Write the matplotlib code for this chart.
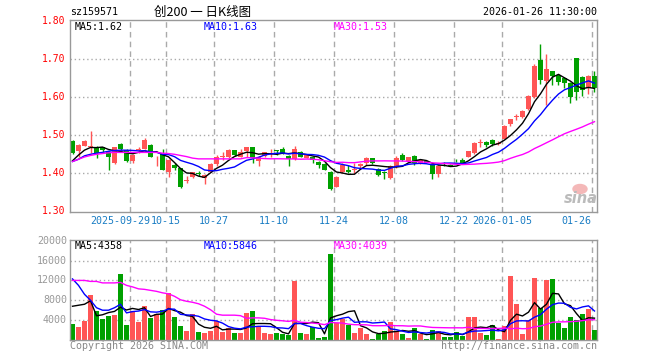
import matplotlib
matplotlib.use('Agg')
import matplotlib.pyplot as plt
import numpy as np

# daily K data, sz159571, 2025-09-15 .. 2026-01-26
opens = [1.485, 1.459, 1.473, 1.468, 1.468, 1.468, 1.455, 1.426, 1.477, 1.461,
         1.433, 1.462, 1.464, 1.475, 1.439, 1.451, 1.404, 1.422, 1.413, 1.381,
         1.391, 1.401, 1.387, 1.404, 1.425, 1.442, 1.444, 1.461, 1.444, 1.460,
         1.468, 1.433, 1.446, 1.451, 1.461, 1.464, 1.446, 1.437, 1.456, 1.441,
         1.444, 1.431, 1.425, 1.404, 1.365, 1.404, 1.409, 1.409, 1.418, 1.426,
         1.439, 1.411, 1.403, 1.387, 1.416, 1.448, 1.433, 1.446, 1.426, 1.432,
         1.425, 1.398, 1.425, 1.423, 1.435, 1.435, 1.444, 1.454, 1.480, 1.483,
         1.488, 1.478, 1.490, 1.529, 1.548, 1.549, 1.569, 1.600, 1.697, 1.643,
         1.669, 1.659, 1.652, 1.638, 1.703, 1.654, 1.624, 1.657]
highs = [1.487, 1.476, 1.488, 1.511, 1.472, 1.470, 1.458, 1.470, 1.479, 1.463,
         1.450, 1.470, 1.494, 1.476, 1.446, 1.464, 1.437, 1.426, 1.415, 1.392,
         1.404, 1.406, 1.397, 1.426, 1.448, 1.457, 1.464, 1.462, 1.464, 1.469,
         1.469, 1.446, 1.457, 1.465, 1.462, 1.470, 1.449, 1.472, 1.458, 1.451,
         1.446, 1.432, 1.426, 1.406, 1.393, 1.428, 1.422, 1.428, 1.428, 1.444,
         1.441, 1.414, 1.407, 1.422, 1.446, 1.453, 1.444, 1.447, 1.438, 1.434,
         1.427, 1.421, 1.431, 1.425, 1.437, 1.440, 1.460, 1.482, 1.490, 1.484,
         1.489, 1.486, 1.527, 1.543, 1.555, 1.567, 1.605, 1.687, 1.740, 1.714,
         1.670, 1.662, 1.654, 1.641, 1.703, 1.656, 1.659, 1.669]
lows = [1.452, 1.444, 1.472, 1.453, 1.441, 1.457, 1.409, 1.424, 1.462, 1.431,
        1.428, 1.453, 1.463, 1.442, 1.418, 1.408, 1.389, 1.409, 1.362, 1.374,
        1.387, 1.393, 1.371, 1.403, 1.418, 1.436, 1.439, 1.446, 1.442, 1.442,
        1.428, 1.418, 1.444, 1.444, 1.448, 1.451, 1.420, 1.435, 1.442, 1.439,
        1.426, 1.415, 1.408, 1.357, 1.363, 1.402, 1.400, 1.402, 1.415, 1.422,
        1.424, 1.393, 1.385, 1.385, 1.414, 1.432, 1.431, 1.422, 1.424, 1.426,
        1.385, 1.389, 1.418, 1.419, 1.431, 1.426, 1.442, 1.452, 1.469, 1.469,
        1.473, 1.475, 1.489, 1.525, 1.540, 1.545, 1.567, 1.597, 1.634, 1.580,
        1.632, 1.632, 1.624, 1.584, 1.593, 1.604, 1.610, 1.613]
closes = [1.454, 1.475, 1.485, 1.471, 1.453, 1.461, 1.444, 1.468, 1.463, 1.433,
          1.449, 1.463, 1.488, 1.444, 1.441, 1.409, 1.435, 1.413, 1.365, 1.383,
          1.403, 1.399, 1.396, 1.425, 1.442, 1.445, 1.461, 1.448, 1.455, 1.468,
          1.439, 1.442, 1.455, 1.454, 1.460, 1.453, 1.437, 1.464, 1.444, 1.449,
          1.435, 1.422, 1.409, 1.360, 1.391, 1.422, 1.404, 1.411, 1.425, 1.440,
          1.426, 1.396, 1.402, 1.418, 1.441, 1.435, 1.442, 1.428, 1.435, 1.428,
          1.398, 1.419, 1.424, 1.420, 1.434, 1.428, 1.459, 1.479, 1.481, 1.475,
          1.477, 1.479, 1.525, 1.542, 1.549, 1.564, 1.604, 1.683, 1.646, 1.675,
          1.657, 1.641, 1.637, 1.602, 1.615, 1.619, 1.657, 1.624]
vols = [3200, 2600, 3800, 9000, 5800, 4200, 4800, 5000, 13200, 3000,
        5800, 3700, 6800, 4400, 5200, 6000, 9400, 4600, 2800, 1800,
        5200, 1600, 1400, 1800, 3800, 1600, 2400, 1400, 1400, 5400,
        5800, 2600, 1400, 1200, 1400, 1200, 1000, 11800, 1400, 1200,
        2600, 400, 600, 17400, 3400, 4200, 3000, 1400, 2400, 1200,
        200, 1200, 1800, 3600, 1800, 1200, 400, 2400, 1200, 200,
        2000, 1800, 600, 600, 1600, 800, 4600, 4600, 1400, 1000,
        3000, 200, 2800, 12800, 7200, 1200, 4000, 12400, 6400, 12000,
        12200, 3400, 2400, 4600, 4000, 5200, 6200, 2000]

# moving averages at the left edge depend on days before the window
ma5_head = [1.433, 1.448, 1.461, 1.468]
ma10_head = [1.431, 1.437, 1.446, 1.450, 1.453, 1.455, 1.458, 1.460, 1.461]
ma30_head = [1.431, 1.437, 1.443, 1.447, 1.450, 1.452, 1.454, 1.455, 1.455, 1.455,
             1.455, 1.455, 1.455, 1.455, 1.455, 1.453, 1.452, 1.450, 1.447, 1.444,
             1.440, 1.438, 1.438, 1.438, 1.438, 1.438, 1.438, 1.438, 1.438]
vma5_head = [6800, 7000, 7200, 7900]
vma10_head = [12300, 11000, 9200, 8000, 6500, 6000, 6000, 6500, 7200]
vma30_head = [12000, 12000, 12000, 11800, 11800, 11500, 11500, 11500, 11600, 11000,
              10700, 10300, 10200, 10000, 9800, 9500, 9300, 8800, 8100, 7800,
              7600, 7300, 6800, 6100, 5200, 5000, 5000, 5000, 4900]

date_pos = [10, 16, 24, 34, 44, 54, 64, 72, 87]
date_labels = ['2025-09-29', '10-15', '10-27', '11-10', '11-24', '12-08',
               '12-22', '2026-01-05', '01-26']
price_ticks = [1.30, 1.40, 1.50, 1.60, 1.70, 1.80]
vol_ticks = [0, 4000, 8000, 12000, 16000, 20000]
ma_texts = ['MA5:1.62', 'MA10:1.63', 'MA30:1.53']
vma_texts = ['MA5:4358', 'MA10:5846', 'MA30:4039']

RED = '#ff5555'
GREEN = '#00a000'
MACOL = ['black', '#0000ff', '#ff00ff']
GRID = '#aaaaaa'
MONO = 'DejaVu Sans Mono'
W, H = 660, 360


def ma(vals, n, head):
    out = list(head)
    for i in range(len(head), len(vals)):
        out.append(np.mean(vals[i - n + 1:i + 1]))
    return out


def box(x0, y0, x1, y1):
    return [x0 / W, 1 - y1 / H, (x1 - x0) / W, (y1 - y0) / H]


def ftext(x, y, s, **kw):
    kw.setdefault('family', MONO)
    kw.setdefault('fontsize', 7.2)
    kw.setdefault('va', 'center')
    fig.text(x / W, 1 - y / H, s, **kw)


o = np.array(opens)
c = np.array(closes)
x = np.arange(len(c))
col = np.where(c >= o, RED, GREEN)

fig = plt.figure(figsize=(W / 100, H / 100), dpi=100)
ax = fig.add_axes(box(70, 20, 597, 212))
axv = fig.add_axes(box(70, 240, 597, 340))

for a in (ax, axv):
    a.set_xlim(-0.417, 87.417)
    for s in a.spines.values():
        s.set_color('#999999')
        s.set_linewidth(1)
    a.set_xticks([])
    a.set_yticks([])
    for d in date_pos:
        a.axvline(d - 0.417, color=GRID, lw=1, ls=(0, (4, 3)), zorder=0)

ax.set_ylim(1.2982, 1.8034)
axv.set_ylim(0, 20140)
for p in price_ticks[1:-1]:
    ax.axhline(p, color=GRID, lw=1, ls=(0, (1, 2)), zorder=0)
for v in vol_ticks[1:-1]:
    axv.axhline(v, color=GRID, lw=1, ls=(0, (1, 2)), zorder=0)

# candles
ax.vlines(x, lows, highs, colors=col, lw=1, zorder=2)
ax.bar(x, np.maximum(np.abs(c - o), 0.0022), bottom=np.minimum(o, c),
       width=0.82, color=col, zorder=2)
axv.bar(x, vols, width=0.82, color=col, zorder=2)

# moving averages
for n, head, cl in zip([5, 10, 30], [ma5_head, ma10_head, ma30_head], MACOL):
    ax.plot(x, ma(closes, n, head), color=cl, lw=1, zorder=3)
for n, head, cl in zip([5, 10, 30], [vma5_head, vma10_head, vma30_head], MACOL):
    axv.plot(x, ma(vols, n, head), color=cl, lw=1, zorder=3)

# header
ftext(70, 12, 'sz159571')
ftext(203, 12, '创200 一 日K线图', ha='center', fontsize=9,
      family=['Noto Sans CJK SC', 'DejaVu Sans'])
ftext(597, 12, '2026-01-26 11:30:00', ha='right')

for xx, s, cl in zip([75, 204, 334], ma_texts, MACOL):
    ftext(xx, 26.5, s, color=cl)
for xx, s, cl in zip([75, 204, 334], vma_texts, MACOL):
    ftext(xx, 246, s, color=cl)

# axis labels
for p in price_ticks:
    ftext(65, 21.3 + (1.80 - p) * 380, '%.2f' % p, ha='right', color='red', fontsize=7)
for v in vol_ticks[1:]:
    ftext(67, 340 - v / 201.4, str(v), ha='right', color='#999999')
for d, s in zip(date_pos, date_labels):
    xp = 70 + 6 * d
    if s == '01-26':
        ftext(591, 220.5, s, ha='right', color='#1a7dc4')
    elif s == '2025-09-29':
        ftext(150, 220.5, s, ha='right', color='#1a7dc4')
    else:
        ftext(xp, 220.5, s, ha='center', color='#1a7dc4')

ftext(70, 346, 'Copyright 2026 SINA.COM', color='#888888')
ftext(597, 346, 'http://finance.sina.com.cn', ha='right', color='#888888')
# sina watermark
fig.patches.append(matplotlib.patches.Ellipse((580 / W, 1 - 189 / H), 14 / W, 9 / H,
                                              transform=fig.transFigure,
                                              color='#f4b8b8', zorder=1))
ftext(581, 198, 'sina', ha='center', family='DejaVu Sans', fontsize=10.5,
      fontweight='bold', style='italic', color='#bbbbbb')

fig.savefig('out.png', dpi=100)
